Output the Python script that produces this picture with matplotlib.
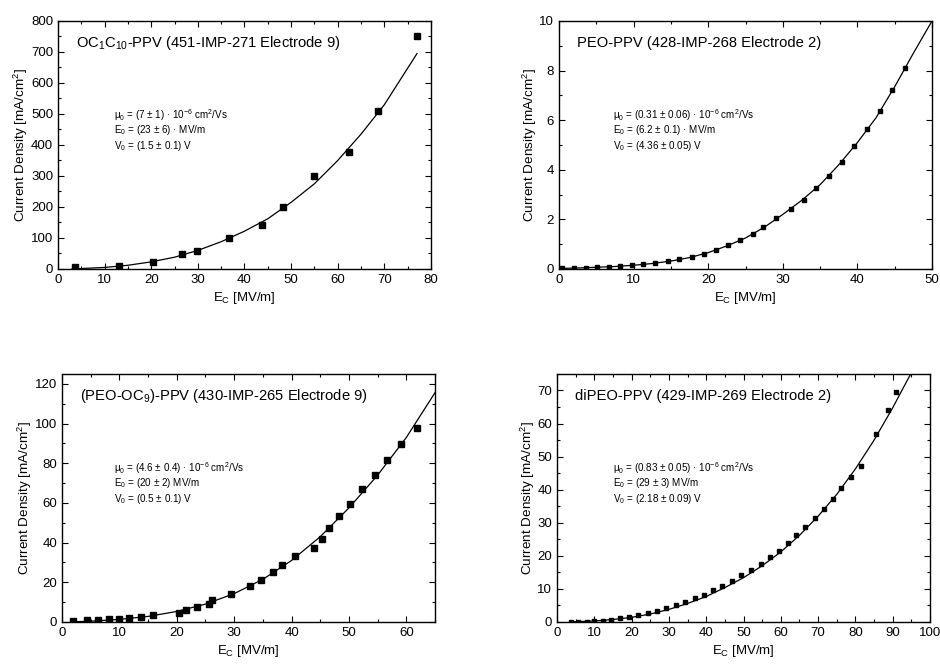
import matplotlib
matplotlib.use("Agg")
import matplotlib.pyplot as plt
from matplotlib.ticker import MultipleLocator

plt.rcParams['font.family'] = ['Liberation Sans', 'DejaVu Sans']
plt.rcParams['mathtext.fontset'] = 'custom'
plt.rcParams['mathtext.rm'] = 'Liberation Sans'
plt.rcParams['mathtext.it'] = 'Liberation Sans:italic'
plt.rcParams['mathtext.default'] = 'regular'

# OC1C10-PPV
e1 = [3.7, 13.1, 20.4, 26.5, 29.8, 36.7, 43.7, 48.2, 54.9, 62.5, 68.6, 77.05]
j1 = [5, 11, 23, 48, 57, 100, 142, 200, 300, 377, 510, 750]
fit_e1 = [3, 5, 10, 15, 20, 25, 30, 35, 40, 45, 50, 55, 60, 65, 70, 77]
fit_j1 = [0.5, 1.5, 5, 12, 23, 38, 60, 88, 122, 162, 215, 275, 350, 435, 530, 695]

# PEO-PPV
e2 = [0.45, 2.0, 3.6, 5.1, 6.7, 8.2, 9.8, 11.3, 12.8, 14.6, 16.1, 17.8, 19.4, 21.0,
      22.7, 24.3, 26.0, 27.4, 29.1, 31.1, 32.8, 34.5, 36.2, 37.9, 39.6, 41.3, 43.0,
      44.7, 46.4]
j2 = [0.04, 0.04, 0.05, 0.07, 0.08, 0.11, 0.15, 0.19, 0.23, 0.31, 0.39, 0.48, 0.62,
      0.77, 0.95, 1.16, 1.41, 1.68, 2.04, 2.42, 2.80, 3.27, 3.76, 4.33, 4.95, 5.64,
      6.36, 7.22, 8.12]
fit_e2 = [0, 2.5, 5, 7.5, 10, 12.5, 15, 17.5, 20, 22.5, 25, 27.5, 30, 32.5, 35, 37.5,
          40, 42.5, 45, 47.5, 50]
fit_j2 = [0.02, 0.04, 0.07, 0.1, 0.15, 0.22, 0.32, 0.46, 0.66, 0.93, 1.25, 1.68, 2.2,
          2.76, 3.4, 4.2, 5.1, 6.1, 7.35, 8.7, 10.0]

# (PEO-OC9)-PPV
e3 = [1.9, 4.4, 6.3, 8.2, 9.9, 11.7, 13.8, 15.9, 20.3, 21.55, 23.5, 25.6, 26.1, 29.4,
      32.8, 34.7, 36.8, 38.4, 40.6, 43.9, 45.3, 46.5, 48.3, 50.2, 52.2, 54.5, 56.7,
      59.1, 61.9]
j3 = [0.7, 0.8, 1.0, 1.35, 1.7, 2.0, 2.7, 3.4, 4.6, 6.1, 7.6, 8.9, 11.0, 14.0, 18.2,
      21.3, 25.0, 28.7, 33.2, 37.5, 41.9, 47.3, 53.2, 59.6, 66.8, 74.1, 81.7, 89.6,
      97.9]
fit_e3 = [2, 5, 10, 15, 20, 25, 30, 35, 40, 45, 50, 55, 60, 65]
fit_j3 = [0.1, 0.4, 1.3, 2.8, 5.3, 9.0, 14.3, 21.5, 31.0, 43.0, 57.5, 74.0, 93.0, 115.6]

# diPEO-PPV
e4 = [3.7, 5.7, 7.9, 9.9, 12.3, 14.5, 16.9, 19.3, 21.8, 24.4, 26.8, 29.3, 31.8, 34.3,
      36.9, 39.3, 41.8, 44.3, 46.8, 49.3, 52.0, 54.6, 57.0, 59.4, 61.8, 64.1, 66.5,
      69.1, 71.6, 74.0, 76.2, 78.7, 81.4, 85.6, 88.8, 90.9]
j4 = [0.1, 0.1, 0.1, 0.2, 0.4, 0.7, 1.1, 1.6, 2.1, 2.8, 3.4, 4.3, 5.2, 6.1, 7.2, 8.3,
      9.6, 10.8, 12.4, 14.1, 15.8, 17.5, 19.5, 21.5, 23.9, 26.2, 28.7, 31.4, 34.2,
      37.2, 40.4, 43.8, 47.3, 56.8, 64.1, 69.4]
fit_e4 = [4, 10, 15, 20, 25, 30, 35, 40, 45, 50, 55, 60, 65, 70, 75, 80, 85, 90, 94.8]
fit_j4 = [0.05, 0.3, 0.75, 1.4, 2.4, 3.8, 5.6, 7.7, 10.4, 13.4, 17.0, 21.2, 26.2, 32.0,
          38.6, 46.3, 55.0, 64.8, 75]

titles = ['OC$_1$C$_{10}$-PPV (451-IMP-271 Electrode 9)',
          'PEO-PPV (428-IMP-268 Electrode 2)',
          '(PEO-OC$_9$)-PPV (430-IMP-265 Electrode 9)',
          'diPEO-PPV (429-IMP-269 Electrode 2)']
params = [['\u03bc$_0$ = (7 \u00b1 1) \u00b7 10$^{-6}$ cm$^2$/Vs',
           'E$_0$ = (23 \u00b1 6) \u00b7 MV/m',
           'V$_0$ = (1.5 \u00b1 0.1) V'],
          ['\u03bc$_0$ = (0.31 \u00b1 0.06) \u00b7 10$^{-6}$ cm$^2$/Vs',
           'E$_0$ = (6.2 \u00b1 0.1) \u00b7 MV/m',
           'V$_0$ = (4.36 \u00b1 0.05) V'],
          ['\u03bc$_0$ = (4.6 \u00b1 0.4) \u00b7 10$^{-6}$ cm$^2$/Vs',
           'E$_0$ = (20 \u00b1 2) MV/m',
           'V$_0$ = (0.5 \u00b1 0.1) V'],
          ['\u03bc$_0$ = (0.83 \u00b1 0.05) \u00b7 10$^{-6}$ cm$^2$/Vs',
           'E$_0$ = (29 \u00b1 3) MV/m',
           'V$_0$ = (2.18 \u00b1 0.09) V']]

data = [(e1, j1, fit_e1, fit_j1), (e2, j2, fit_e2, fit_j2),
        (e3, j3, fit_e3, fit_j3), (e4, j4, fit_e4, fit_j4)]

# axes boxes, limits and tick spacing for each panel
boxes = [[0.0617, 0.5949, 0.3968, 0.3735], [0.5947, 0.5949, 0.3968, 0.3735],
         [0.0660, 0.0633, 0.3968, 0.3735], [0.5926, 0.0633, 0.3968, 0.3735]]
xlims = [(0, 80), (0, 50), (0, 65), (0, 100)]
ylims = [(0, 800), (0, 10), (0, 125), (0, 75)]
yticks = [(100, 50), (2, 1), (20, 10), (10, 5)]
msizes = [4.3, 3.5, 3.7, 3.5]
textx = [0.15, 0.145, 0.14, 0.15]

fig = plt.figure(figsize=(9.4, 6.64), dpi=100)
for i in range(4):
    ax = fig.add_axes(boxes[i])
    e, j, fe, fj = data[i]
    ax.plot(fe, fj, color='black', lw=0.9)
    ax.plot(e, j, 's', color='black', ms=msizes[i])
    ax.set_xlim(xlims[i])
    ax.set_ylim(ylims[i])
    ax.xaxis.set_major_locator(MultipleLocator(10))
    ax.xaxis.set_minor_locator(MultipleLocator(5))
    ax.yaxis.set_major_locator(MultipleLocator(yticks[i][0]))
    ax.yaxis.set_minor_locator(MultipleLocator(yticks[i][1]))
    ax.tick_params(which='both', direction='in', top=True, right=True, labelsize=9.5)
    ax.tick_params(which='major', length=4, width=0.8)
    ax.tick_params(which='minor', length=2.5, width=0.8)
    for s in ax.spines.values():
        s.set_linewidth(1.0)
    ax.set_xlabel('E$_C$ [MV/m]', fontsize=9.5, labelpad=3)
    ax.set_ylabel('Current Density [mA/cm$^2$]', fontsize=9.7, labelpad=0.5)
    ax.text(0.047, 0.912, titles[i], transform=ax.transAxes, fontsize=10.6, va='center')
    for k, line in enumerate(params[i]):
        ax.text(textx[i], 0.621 - k * 0.062, line, transform=ax.transAxes,
                fontsize=7.1, va='center')

fig.savefig('out.png', dpi=100)
